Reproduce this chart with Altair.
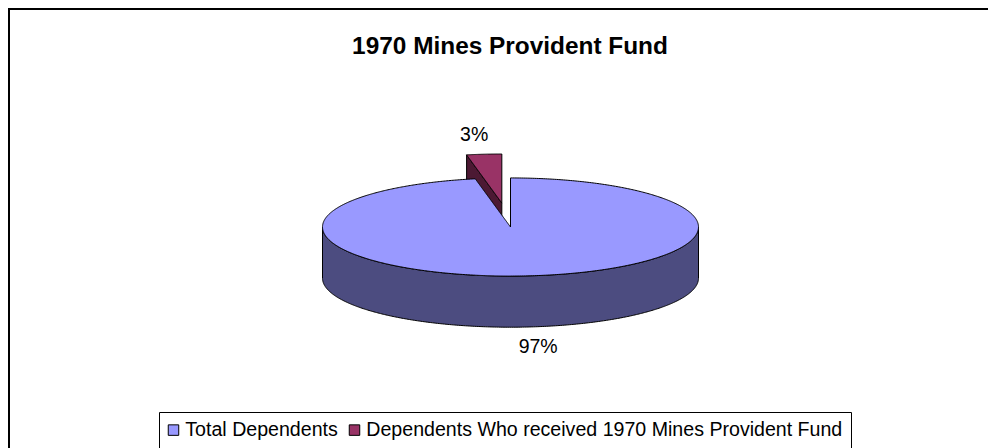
import altair as alt
import numpy as np
import pandas as pd

# ---------------- data ----------------
categories = ["Total Dependents", "Dependents Who received 1970 Mines Provident Fund"]
values = [97, 3]
pct_labels = ["97%", "3%"]
explode = [0.0, 0.49]

top_colors = ["#9999FF", "#993366"]
side_colors = ["#4C4C80", "#4C1933"]

TITLE = "1970 Mines Provident Fund"
FONT = "Liberation Sans"

# ---------------- 3-D pie geometry (radius units) ----------------
TILT = 0.261      # vertical squash of the pie top
DEPTH = 0.272     # thickness of the pie
START = 90.0      # first slice starts at 12 o'clock, going clockwise
N = 160

W, H = 980, 440   # view size (px)
PX = 188.0        # pixels per radius unit
CX, CY = 502.5, 219.0  # pie centre inside the view (px)
x_dom = [-CX / PX, (W - CX) / PX]
y_dom = [(CY - H) / PX, CY / PX]

total = float(sum(values))
angles = []
cum = 0.0
for v in values:
    a0 = START - 360.0 * cum / total
    cum += v
    a1 = START - 360.0 * cum / total
    angles.append((a0, a1))

g_hi = angles[1][0] + 360.0   # start edge of small slice (ccw side)
g_lo = angles[1][1] + 360.0   # end edge of small slice (12 o'clock)
xg, yg = np.cos(np.radians(g_hi)), TILT * np.sin(np.radians(g_hi))


def rows_add(rows, x, y, y2):
    rows.append({"x": float(x), "y": float(y), "y2": float(y2)})


# main slice: top face (ellipse minus the wedge of the small slice)
main_top = []
for t in np.linspace(180.0, g_hi, N):
    r = np.radians(t)
    rows_add(main_top, np.cos(r), TILT * np.sin(r), -TILT * np.sin(r))
for x in np.linspace(xg, 0.0, N // 2)[1:]:
    rows_add(main_top, x, yg * x / xg, -TILT * np.sqrt(max(0.0, 1 - x * x)))
for t in np.linspace(g_lo, 0.0, N):
    r = np.radians(t)
    rows_add(main_top, max(np.cos(r), 1e-9), TILT * np.sin(r), -TILT * np.sin(r))
main_top = pd.DataFrame(main_top)
main_top["category"] = categories[0]

# main slice: front side band
main_side = []
for t in np.linspace(180.0, 360.0, 2 * N):
    r = np.radians(t)
    rows_add(main_side, np.cos(r), TILT * np.sin(r), TILT * np.sin(r) - DEPTH)
main_side = pd.DataFrame(main_side)

# small slice, exploded along its bisector
mid_s = np.radians((g_hi + g_lo) / 2.0)
ox, oy = explode[1] * np.cos(mid_s), explode[1] * TILT * np.sin(mid_s)

small_top = []
small_side = []
for t in np.linspace(g_hi, g_lo, N // 2):
    r = np.radians(t)
    x = np.cos(r)
    line = yg * x / xg
    rows_add(small_top, x + ox, TILT * np.sin(r) + oy, line + oy)
    rows_add(small_side, x + ox, line + oy, line + oy - DEPTH)
small_top = pd.DataFrame(small_top)
small_top["category"] = categories[1]
small_side = pd.DataFrame(small_side)

# label anchors (edge of each slice along its bisector)
mid_m = np.radians((angles[0][0] + angles[0][1]) / 2.0)
lab_main = pd.DataFrame({"x": [np.cos(mid_m)], "y": [TILT * np.sin(mid_m) - DEPTH],
                         "t": [pct_labels[0]]})
lab_small = pd.DataFrame({"x": [ox + np.cos(mid_s)], "y": [oy + TILT * np.sin(mid_s)],
                          "t": [pct_labels[1]]})

# ---------------- chart ----------------
xs = alt.Scale(domain=x_dom, nice=False, zero=False)
ys = alt.Scale(domain=y_dom, nice=False, zero=False)
X = alt.X("x:Q", scale=xs, axis=None)
Y = alt.Y("y:Q", scale=ys, axis=None)
color = alt.Color(
    "category:N",
    scale=alt.Scale(domain=categories, range=top_colors),
    sort=categories,
    legend=alt.Legend(
        title=None, orient="none", direction="horizontal",
        legendX=151, legendY=404,
        symbolType="square", symbolSize=110,
        symbolStrokeColor="black", symbolStrokeWidth=1,
        symbolOffset=-3.3, labelOffset=2, columnPadding=9,
        labelFont=FONT, labelFontSize=19.6, labelColor="black",
        padding=8, strokeColor="black", fillColor="white", labelLimit=0,
    ),
)

area_kw = dict(stroke="black", strokeWidth=1, opacity=1, interpolate="linear")

small_side_l = alt.Chart(small_side).mark_area(fill=side_colors[1], **area_kw).encode(
    x=X, y=Y, y2="y2:Q")
small_top_l = alt.Chart(small_top).mark_area(**area_kw).encode(
    x=X, y=Y, y2="y2:Q", fill=color)
main_side_l = alt.Chart(main_side).mark_area(fill=side_colors[0], **area_kw).encode(
    x=X, y=Y, y2="y2:Q")
main_top_l = alt.Chart(main_top).mark_area(**area_kw).encode(
    x=X, y=Y, y2="y2:Q", fill=color)

txt_kw = dict(font=FONT, fontSize=19.5, color="black", align="center", baseline="alphabetic")
lab_main_l = alt.Chart(lab_main).mark_text(dx=10, dy=26, **txt_kw).encode(x=X, y=Y, text="t:N")
lab_small_l = alt.Chart(lab_small).mark_text(dx=-10, dy=-13, **txt_kw).encode(x=X, y=Y, text="t:N")

frame_top = alt.Chart(pd.DataFrame({"k": [0]})).mark_rule(color="black", strokeWidth=2).encode(
    x=alt.value(0), x2=alt.value(W), y=alt.value(1))
frame_left = alt.Chart(pd.DataFrame({"k": [0]})).mark_rule(color="black", strokeWidth=2).encode(
    x=alt.value(1), y=alt.value(0), y2=alt.value(H))

chart = alt.layer(
    frame_top, frame_left,
    small_side_l, small_top_l, main_side_l, main_top_l,
    lab_main_l, lab_small_l,
).properties(
    width=W, height=H,
    title=alt.TitleParams(TITLE, font=FONT, fontSize=24.4, fontWeight="bold", color="black",
                          anchor="middle", baseline="alphabetic", offset=0, dy=71, dx=12),
    autosize=alt.AutoSizeParams(type="none"),
    padding=0,
).configure_view(stroke=None).configure(background="white")

chart.save("out.html", embed_options={"renderer": "svg", "actions": False})
